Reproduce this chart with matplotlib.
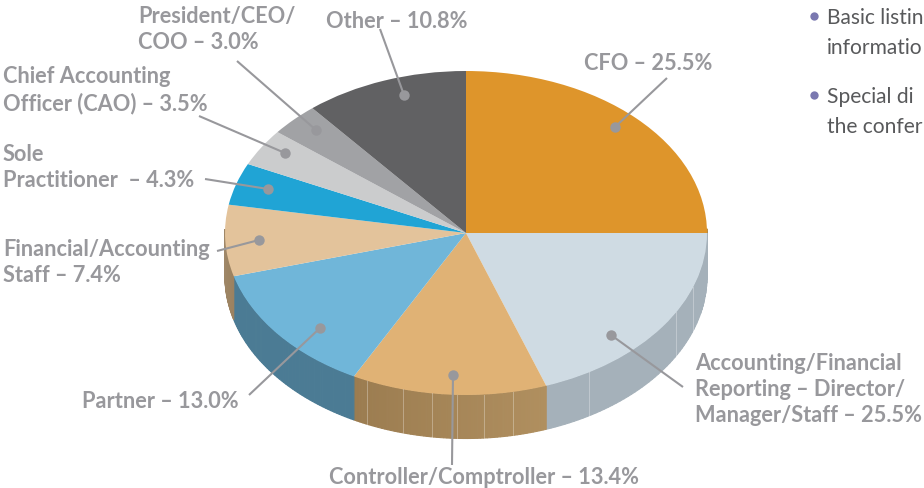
import numpy as np
import matplotlib
matplotlib.use("Agg")
import matplotlib.pyplot as plt
from matplotlib.patches import Polygon

plt.rcParams['font.family'] = ['Lato', 'DejaVu Sans']

# the drawn size of each slice, clockwise from 12 o'clock (printed labels do not add up to 100)
roles = ["CFO", "Accounting", "Controller", "Partner", "Staff", "Sole", "CAO", "President", "Other"]
shares = [25.0, 19.6, 13.1, 13.0, 7.1, 4.2, 3.7, 3.3, 11.0]
top_colors = ["#de952b", "#cfdbe3", "#e0b275", "#70b6d9", "#e3c39b", "#20a4d5", "#cbcccd", "#a1a2a5", "#616163"]
wall_start = ["#b58a45", "#a5b1ba", "#b08f5f", "#4b7b94", "#9c8260", "#1a7fa5", "#999999", "#888888", "#555555"]
wall_end = ["#b58a45", "#a5b1ba", "#9b7c50", "#4b7b94", "#a08a6c", "#1a7fa5", "#999999", "#888888", "#555555"]

labels = ["CFO – 25.5%",
          "Accounting/Financial\nReporting – Director/\nManager/Staff – 25.5%",
          "Controller/Comptroller – 13.4%",
          "Partner – 13.0%",
          "Financial/Accounting\nStaff – 7.4%",
          "Sole\nPractitioner  – 4.3%",
          "Chief Accounting\nOfficer (CAO) – 3.5%",
          "President/CEO/\nCOO – 3.0%",
          "Other – 10.8%"]
label_xy = [(584, 70), (695, 422), (329, 484), (82, 408), (3, 282), (3, 187), (3, 110), (138, 49), (326, 28)]
dot_xy = [(615, 127), (611, 335), (453, 375), (320, 328), (259, 240), (268, 189), (285, 153), (316, 130), (404, 95)]
end_xy = [(667, 78), (683, 387), (452, 465), (249, 395), (217, 251), (205, 179), (199, 116), (237, 61), (380, 29)]

# pixel x of the thin seams on the side of the pie
seam_x = [367, 403, 432, 457, 484, 513, 589, 676, 693]

side_text = ["Basic listin", "informatio", "Special di", "the confer"]
side_y = [24, 54, 103, 133]
bullet_y = [16, 95]

W, H = 924, 488
cx, cy, rx, ry = 466, 233, 241, 162
depth = 43.5 / ry

fig = plt.figure(figsize=(W / 100, H / 100), dpi=100)
ax = fig.add_axes([0, 0, 1, 1])

# side wall first, one thin quad at a time so the tone can drift along it
edges = np.cumsum([0] + shares) / 100 * 2 * np.pi
for i in range(len(shares)):
    th = np.linspace(edges[i], edges[i + 1], 60)
    c1 = np.array(matplotlib.colors.to_rgb(wall_start[i]))
    c2 = np.array(matplotlib.colors.to_rgb(wall_end[i]))
    for j in range(len(th) - 1):
        x0, x1 = np.sin(th[j]), np.sin(th[j + 1])
        y0, y1 = np.cos(th[j]), np.cos(th[j + 1])
        if y0 > 0.02 and y1 > 0.02:
            continue
        t = (j + 0.5) / (len(th) - 1)
        col = c1 * (1 - t) + c2 * t
        ax.add_patch(Polygon([(x0, y0), (x1, y1), (x1, y1 - depth), (x0, y0 - depth)],
                             facecolor=col, edgecolor=col, lw=0.8))

for sx in seam_x:
    s = (sx - cx) / rx
    yy = -np.sqrt(1 - s ** 2)
    ax.plot([s, s], [yy, yy - depth], color="white", lw=0.7, alpha=0.3)

ax.pie(shares, colors=top_colors, startangle=90, counterclock=False, radius=1,
       wedgeprops={"linewidth": 0})
ax.set_aspect("auto")
ax.set_xlim(-cx / rx, (W - cx) / rx)
ax.set_ylim((cy - H) / ry, cy / ry)
ax.axis("off")

# overlay in pixel coordinates for the callouts
ov = fig.add_axes([0, 0, 1, 1])
ov.set_xlim(0, W)
ov.set_ylim(H, 0)
ov.axis("off")
ov.patch.set_alpha(0)

grey = "#98989c"
for lab, (tx, ty), d, e in zip(labels, label_xy, dot_xy, end_xy):
    ov.plot([d[0], e[0]], [d[1], e[1]], color=grey, lw=1.5, solid_capstyle="butt")
    ov.plot(d[0], d[1], "o", color=grey, ms=7.5, mew=0)
    ov.text(tx, ty, lab, color=grey, fontsize=15.7, fontweight="bold",
            ha="left", va="baseline", linespacing=1.29)

for t, y in zip(side_text, side_y):
    ov.text(827, y, t, color="#58595b", fontsize=15.1, ha="left", va="baseline")
ov.plot([814, 814], bullet_y, "o", color="#7a78b0", ms=6, mew=0, ls="none")

fig.savefig("out.png", dpi=100)
